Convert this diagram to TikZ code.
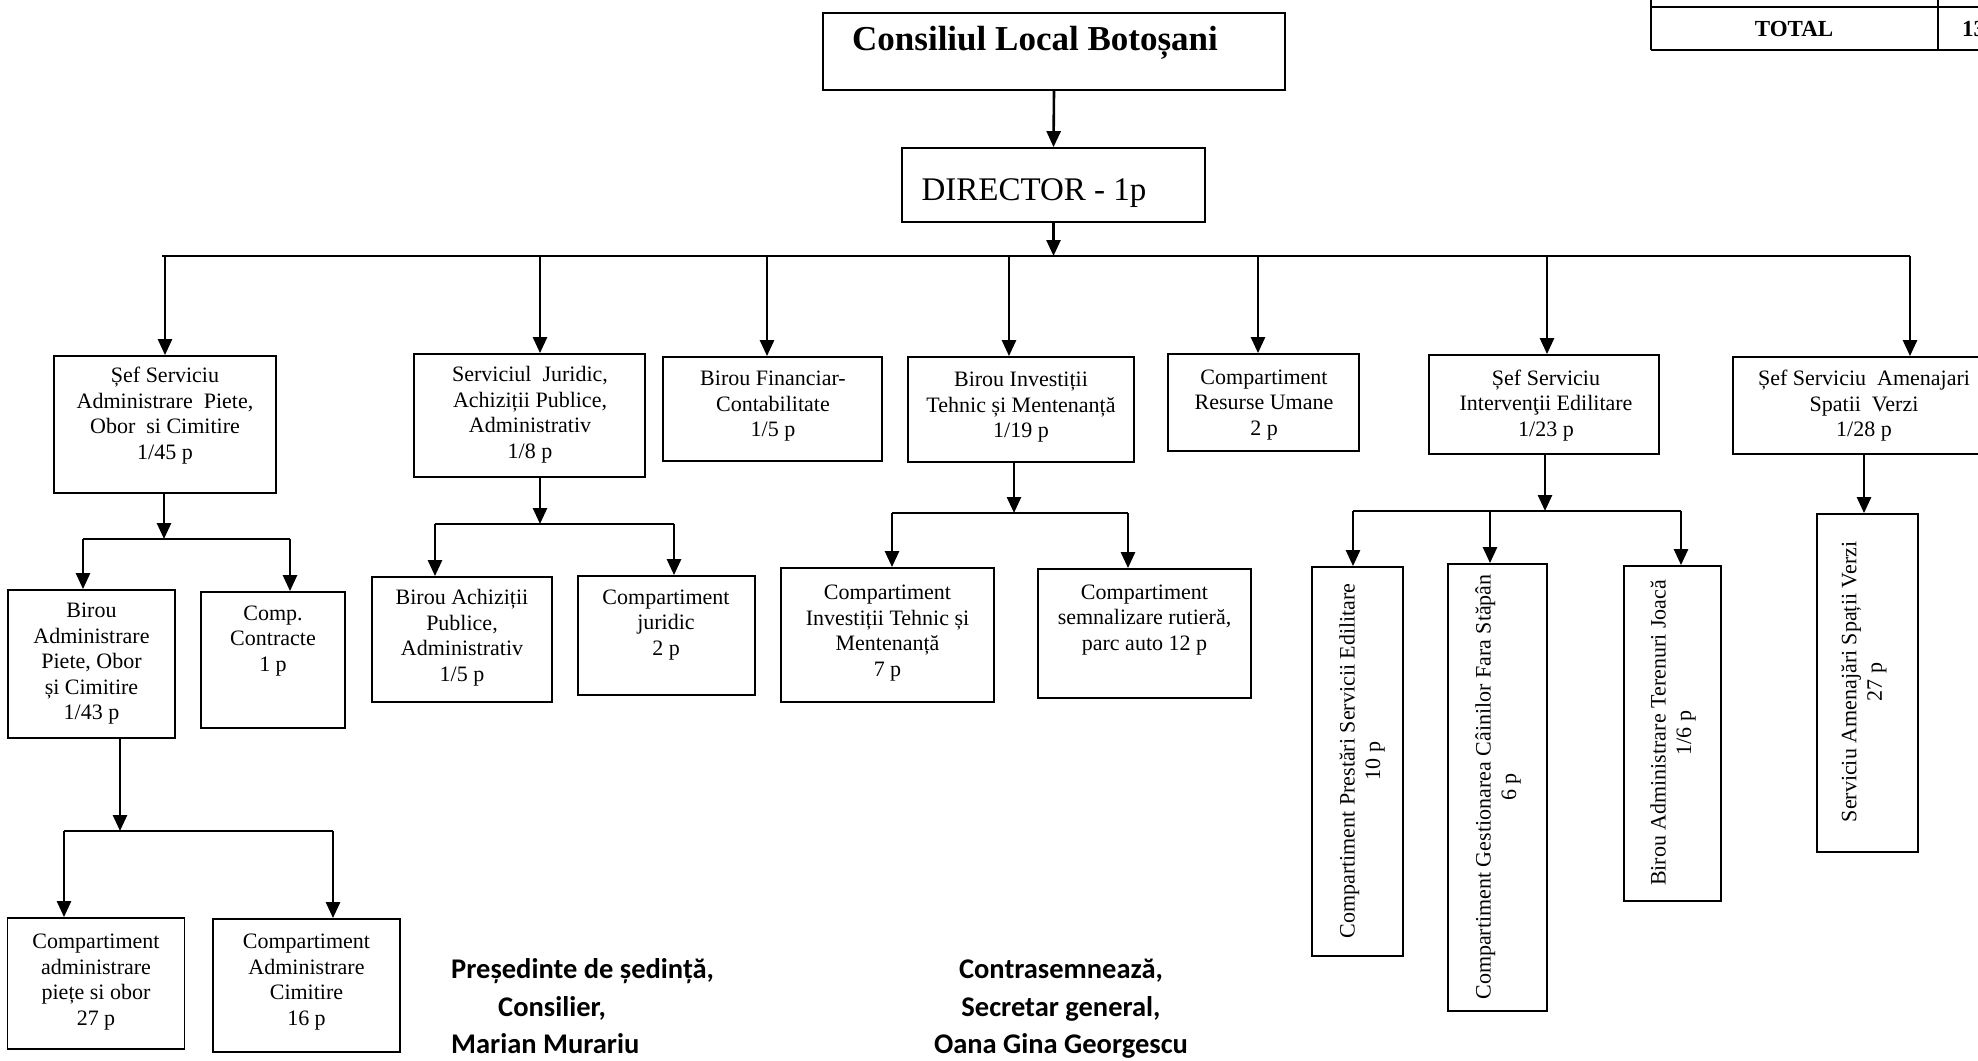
\documentclass[tikz,border=0pt]{standalone}
\usepackage{fontspec}
\setmainfont{Liberation Serif}
\newfontfamily\sigfont{Carlito}
\usetikzlibrary{arrows.meta}
\newcommand\bx{\fontsize{22}{25.5}\selectfont}
\begin{document}
\begin{tikzpicture}[x=1pt,y=-1pt,
  box/.style={draw, line width=1.8pt, inner sep=0pt},
  t/.style={font=\bx, align=center, inner sep=0pt},
  arr/.style={line width=2.6pt, -{Triangle[length=16pt,width=14pt]}},
  ln/.style={line width=1.6pt},
  tbl/.style={line width=2.4pt},
  sig/.style={font=\sigfont\bfseries\fontsize{28.5}{34}\selectfont, inner sep=0pt}]
\useasboundingbox (0,0) rectangle (1978,1060);
\fill[white] (0,0) rectangle (1978,1060);

% top-right table fragment
\draw[tbl] (1651,-5) -- (1651,50);
\draw[tbl] (1938,-5) -- (1938,50);
\draw[tbl] (1651,7) -- (1995,7);
\draw[tbl] (1651,50) -- (1995,50);
\node[inner sep=0pt, font=\bfseries\fontsize{23}{27}\selectfont] (total) at (1794,29) {TOTAL};
\node[inner sep=0pt, anchor=west, font=\bfseries\fontsize{23}{27}\selectfont] (totalv) at (1962,29) {13};

% title and director
\node[box, minimum width=462pt, minimum height=77pt] (T) at (1054,51.5) {};
\node[inner sep=0pt, font=\bfseries\fontsize{35}{40}\selectfont] (Tt) at (1035,43) {Consiliul Local Botoșani};
\node[box, minimum width=303pt, minimum height=74pt] (D) at (1053.5,185) {};
\node[inner sep=0pt, font=\fontsize{33}{38}\selectfont] (Dt) at (1034,193) {DIRECTOR - 1p};
\draw[arr] (T.south) -- (D.north);

% main bus
\coordinate (busL) at (162,256);
\coordinate (busR) at (1910,256);
\draw[ln] (busL) -- (busR);
\draw[arr] (D.south) -- (D.south |- busL);

% level 1 boxes
\node[box, minimum width=222pt, minimum height=137pt] (B1) at (165,424.5) {};
\node[t] (B1t) at (165,415.5) {Șef Serviciu\\Administrare~ Piete,\\Obor~ si Cimitire\\1/45 p};
\node[box, minimum width=231pt, minimum height=123pt] (B2) at (529.5,415.5) {};
\node[t] (B2t) at (530,414.5) {Serviciul~ Juridic,\\Achiziții Publice,\\Administrativ\\1/8 p};
\node[box, minimum width=219pt, minimum height=104pt] (B3) at (772.5,409) {};
\node[t] (B3t) at (773,406.5) {Birou Financiar-\\Contabilitate\\1/5 p};
\node[box, minimum width=226pt, minimum height=105pt] (B4) at (1021,409.5) {};
\node[t] (B4t) at (1021,407.5) {Birou Investiții\\Tehnic și Mentenanță\\1/19 p};
\node[box, minimum width=191pt, minimum height=97pt] (B5) at (1263.5,402.5) {};
\node[t] (B5t) at (1264,405) {Compartiment\\Resurse Umane\\2 p};
\node[box, minimum width=230pt, minimum height=99pt] (B6) at (1544,404.5) {};
\node[t] (B6t) at (1546,405.5) {Șef Serviciu\\Intervenţii Edilitare\\1/23 p};
\node[box, minimum width=262pt, minimum height=97pt] (B7) at (1864,405.5) {};
\node[t] (B7t) at (1864,406) {Șef Serviciu~ Amenajari\\Spatii~ Verzi\\1/28 p};

% level 1 arrows
\coordinate (a1) at (165,256);
\coordinate (a2) at (540,256);
\coordinate (a3) at (767,256);
\coordinate (a4) at (1009,256);
\coordinate (a5) at (1258,256);
\coordinate (a6) at (1547,256);
\coordinate (a7) at (1910,256);
\draw[arr] (a1) -- (a1 |- B1.north);
\draw[arr] (a2) -- (a2 |- B2.north);
\draw[arr] (a3) -- (a3 |- B3.north);
\draw[arr] (a4) -- (a4 |- B4.north);
\draw[arr] (a5) -- (a5 |- B5.north);
\draw[arr] (a6) -- (a6 |- B6.north);
\draw[arr] (a7) -- (a7 |- B7.north);

% B1 children
\node[box, minimum width=167pt, minimum height=148pt] (B1a) at (91.5,664) {};
\node[t] (B1at) at (91.5,664) {Birou\\Administrare\\Piete, Obor\\și Cimitire\\1/43 p};
\node[box, minimum width=144pt, minimum height=136pt] (B1b) at (273,660) {};
\node[t] (B1bt) at (273,641) {Comp.\\Contracte\\1 p};
\coordinate (s1) at (164,539);
\coordinate (s1L) at (83,539);
\coordinate (s1R) at (290,539);
\draw[arr] (s1 |- B1.south) -- (s1);
\draw[ln] (s1L) -- (s1R);
\draw[arr] (s1L) -- (s1L |- B1a.north);
\draw[arr] (s1R) -- (s1R |- B1b.north);

% B1a children
\node[box, minimum width=177pt, minimum height=131pt] (B1a1) at (96,983.5) {};
\node[t] (B1a1t) at (96,982) {Compartiment\\administrare\\piețe si obor\\27 p};
\node[box, minimum width=187pt, minimum height=133pt] (B1a2) at (306.5,985.5) {};
\node[t] (B1a2t) at (306.5,982) {Compartiment\\Administrare\\Cimitire\\16 p};
\coordinate (s2) at (120,831);
\coordinate (s2L) at (64,831);
\coordinate (s2R) at (333,831);
\draw[arr] (s2 |- B1a.south) -- (s2);
\draw[ln] (s2L) -- (s2R);
\draw[arr] (s2L) -- (s2L |- B1a1.north);
\draw[arr] (s2R) -- (s2R |- B1a2.north);

% B2 children
\node[box, minimum width=180pt, minimum height=125pt] (B2a) at (462,639.5) {};
\node[t] (B2at) at (462,637.5) {Birou Achiziții\\Publice,\\Administrativ\\1/5 p};
\node[box, minimum width=177pt, minimum height=119pt] (B2b) at (666.5,635.5) {};
\node[t] (B2bt) at (666,625) {Compartiment\\juridic\\2 p};
\coordinate (s3) at (540,524);
\coordinate (s3L) at (435,524);
\coordinate (s3R) at (674,524);
\draw[arr] (s3 |- B2.south) -- (s3);
\draw[ln] (s3L) -- (s3R);
\draw[arr] (s3L) -- (s3L |- B2a.north);
\draw[arr] (s3R) -- (s3R |- B2b.north);

% B4 children
\node[box, minimum width=213pt, minimum height=134pt] (B4a) at (887.5,635) {};
\node[t] (B4at) at (887.5,633) {Compartiment\\Investiții Tehnic și\\Mentenanță\\7 p};
\node[box, minimum width=213pt, minimum height=129pt] (B4b) at (1144.5,633.5) {};
\node[t] (B4bt) at (1144.5,620) {Compartiment\\semnalizare rutieră,\\parc auto 12 p};
\coordinate (s4) at (1014,513);
\coordinate (s4L) at (892,513);
\coordinate (s4R) at (1128,513);
\draw[arr] (s4 |- B4.south) -- (s4);
\draw[ln] (s4L) -- (s4R);
\draw[arr] (s4L) -- (s4L |- B4a.north);
\draw[arr] (s4R) -- (s4R |- B4b.north);

% B6 children (vertical text)
\node[box, minimum width=91pt, minimum height=389pt] (B6a) at (1357.5,761.5) {};
\node[t, rotate=90] (B6at) at (1362,761) {Compartiment Prestări Servicii Edilitare\\10 p};
\node[box, minimum width=99pt, minimum height=447pt] (B6b) at (1497.5,787.5) {};
\node[t, rotate=90] (B6bt) at (1498,787) {Compartiment Gestionarea Câinilor Fara Stăpân\\6 p};
\node[box, minimum width=97pt, minimum height=335pt] (B6c) at (1672.5,733.5) {};
\node[t, rotate=90] (B6ct) at (1673,733) {Birou Administrare Terenuri Joacă\\1/6 p};
\coordinate (s5) at (1545,511);
\coordinate (s5L) at (1353,511);
\coordinate (s5M) at (1490,511);
\coordinate (s5R) at (1681,511);
\draw[arr] (s5 |- B6.south) -- (s5);
\draw[ln] (s5L) -- (s5R);
\draw[arr] (s5L) -- (s5L |- B6a.north);
\draw[arr] (s5M) -- (s5M |- B6b.north);
\draw[arr] (s5R) -- (s5R |- B6c.north);

% B7 child
\node[box, minimum width=101pt, minimum height=338pt] (B7a) at (1867.5,683) {};
\node[t, rotate=90] (B7at) at (1864,682) {Serviciu Amenajări Spații Verzi\\27 p};
\draw[arr] (B7.south) -- (B7.south |- B7a.north);

% signatures
\node[sig, anchor=base west] (g1) at (451,978) {Președinte de ședință,};
\node[sig, anchor=base west] (g2) at (498,1016) {Consilier,};
\node[sig, anchor=base west] (g3) at (451,1053) {Marian Murariu};
\node[sig, anchor=base] (h1) at (1061,978) {Contrasemnează,};
\node[sig, anchor=base] (h2) at (1061,1016) {Secretar general,};
\node[sig, anchor=base] (h3) at (1061,1053) {Oana Gina Georgescu};
\end{tikzpicture}
\end{document}
